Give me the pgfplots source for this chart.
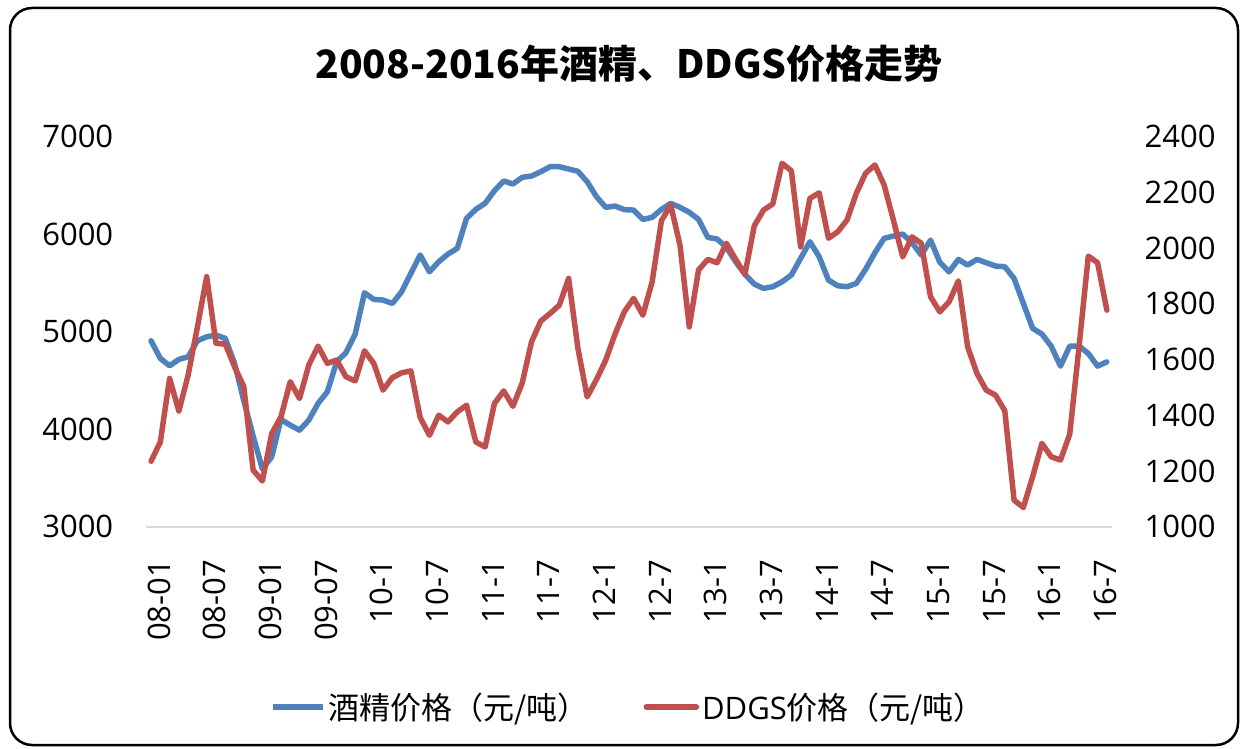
\documentclass[border=0pt]{standalone}
\usepackage{fontspec}
\setmainfont{Open Sans}
\newfontfamily\cjk{Noto Sans CJK SC}
\usepackage{pgfplots}
\usepackage{pgfplotstable}
\pgfplotsset{compat=1.18}
\definecolor{bl}{HTML}{4F81BD}
\definecolor{rd}{HTML}{C0504D}
\definecolor{axg}{HTML}{D9D9D9}

\pgfplotstableread{
i v
0 4906
1 4725
2 4650
3 4715
4 4742
5 4906
6 4947
7 4964
8 4930
9 4674
10 4290
11 3930
12 3590
13 3716
14 4100
15 4041
16 3990
17 4092
18 4264
19 4383
20 4690
21 4783
22 4975
23 5398
24 5330
25 5323
26 5289
27 5408
28 5597
29 5785
30 5613
31 5716
32 5795
33 5853
34 6161
35 6253
36 6315
37 6444
38 6544
39 6513
40 6581
41 6595
42 6639
43 6690
44 6690
45 6667
46 6643
47 6536
48 6383
49 6274
50 6287
51 6250
52 6246
53 6150
54 6171
55 6253
56 6315
57 6274
58 6223
59 6150
60 5966
61 5949
62 5863
63 5716
64 5587
65 5487
66 5443
67 5460
68 5511
69 5580
70 5751
71 5921
72 5767
73 5528
74 5470
75 5460
76 5494
77 5638
78 5808
79 5956
80 5979
81 6000
82 5911
83 5785
84 5938
85 5710
86 5613
87 5740
88 5682
89 5740
90 5706
91 5672
92 5665
93 5545
94 5289
95 5033
96 4975
97 4851
98 4646
99 4851
100 4851
101 4776
102 4646
103 4690
}\alcohol

\pgfplotstableread{
i v
0 1235
1 1304
2 1532
3 1415
4 1544
5 1717
6 1897
7 1658
8 1655
9 1574
10 1502
11 1203
12 1164
13 1334
14 1394
15 1520
16 1460
17 1580
18 1648
19 1586
20 1598
21 1538
22 1523
23 1631
24 1586
25 1490
26 1535
27 1552
28 1559
29 1392
30 1328
31 1400
32 1376
33 1412
34 1436
35 1304
36 1286
37 1442
38 1487
39 1432
40 1516
41 1663
42 1738
43 1765
44 1795
45 1891
46 1640
47 1466
48 1528
49 1598
50 1691
51 1771
52 1819
53 1759
54 1879
55 2098
56 2154
57 2010
58 1717
59 1921
60 1959
61 1947
62 2017
63 1959
64 1906
65 2079
66 2136
67 2158
68 2304
69 2277
70 2004
71 2178
72 2198
73 2035
74 2058
75 2100
76 2196
77 2268
78 2298
79 2226
80 2100
81 1968
82 2040
83 2017
84 1825
85 1771
86 1807
87 1882
88 1645
89 1550
90 1490
91 1472
92 1416
93 1095
94 1069
95 1179
96 1299
97 1251
98 1239
99 1332
100 1645
101 1971
102 1947
103 1777
}\ddgs

\begin{document}
\begin{tikzpicture}[x=1pt,y=1pt]
\useasboundingbox (0,0) rectangle (1243,748);
\draw[line width=2.5pt, rounded corners=22pt] (10,3) rectangle (1238,740);
\node[font=\cjk\bfseries\fontsize{39}{43}\selectfont] at (629,684) {2008-2016年酒精、DDGS价格走势};

\begin{axis}[
  at={(146.4pt,221.3pt)}, anchor=south west,
  width=965.1pt, height=390.2pt, scale only axis,
  xmin=-0.5, xmax=103.5, ymin=3000, ymax=7000,
  axis x line*=bottom, axis y line*=left,
  x axis line style={draw=axg, line width=2pt, -},
  y axis line style={draw=none},
  xtick={0,6,...,102},
  xticklabels={08-01,08-07,09-01,09-07,10-1,10-7,11-1,11-7,12-1,12-7,13-1,13-7,14-1,14-7,15-1,15-7,16-1,16-7},
  ytick={3000,4000,...,7000},
  major tick length=0pt,
  tick label style={font=\fontsize{31}{36}\selectfont},
  xticklabel style={rotate=90, anchor=east, inner sep=0pt, yshift=-8pt},
  xticklabel shift=33pt,
  yticklabel style={anchor=east, inner sep=0pt},
  yticklabel shift=33pt,
  /pgf/number format/assume math mode=true,
  /pgf/number format/set thousands separator={},
]
\addplot[color=bl, line width=5.5pt, line join=round, line cap=round] table[x=i,y=v] {\alcohol};
\end{axis}

\begin{axis}[
  at={(146.4pt,221.3pt)}, anchor=south west,
  width=965.1pt, height=390.2pt, scale only axis,
  xmin=-0.5, xmax=103.5, ymin=1000, ymax=2400,
  hide x axis, axis y line*=right,
  y axis line style={draw=none},
  ytick={1000,1200,...,2400},
  major tick length=0pt,
  tick label style={font=\fontsize{31}{36}\selectfont},
  yticklabel style={anchor=west, inner sep=0pt},
  yticklabel shift=33pt,
  /pgf/number format/assume math mode=true,
  /pgf/number format/set thousands separator={},
  legend columns=2,
  legend style={draw=none, fill=none, at={(0.5,-0.462)}, anchor=center,
    font=\fontsize{31}{35}\selectfont, nodes={inner sep=3pt},
    /tikz/every even column/.append style={column sep=52pt}},
  legend cell align=left,
  legend image code/.code={\draw[#1] (0pt,0pt) -- (50pt,0pt);},
]
\addlegendimage{color=bl, line width=5.5pt}
\addlegendentry{\cjk 酒精价格（元/吨）}
\addplot[color=rd, line width=5.5pt, line join=round, line cap=round] table[x=i,y=v] {\ddgs};
\addlegendentry{DDGS\cjk 价格（元/吨）}
\end{axis}
\end{tikzpicture}
\end{document}
